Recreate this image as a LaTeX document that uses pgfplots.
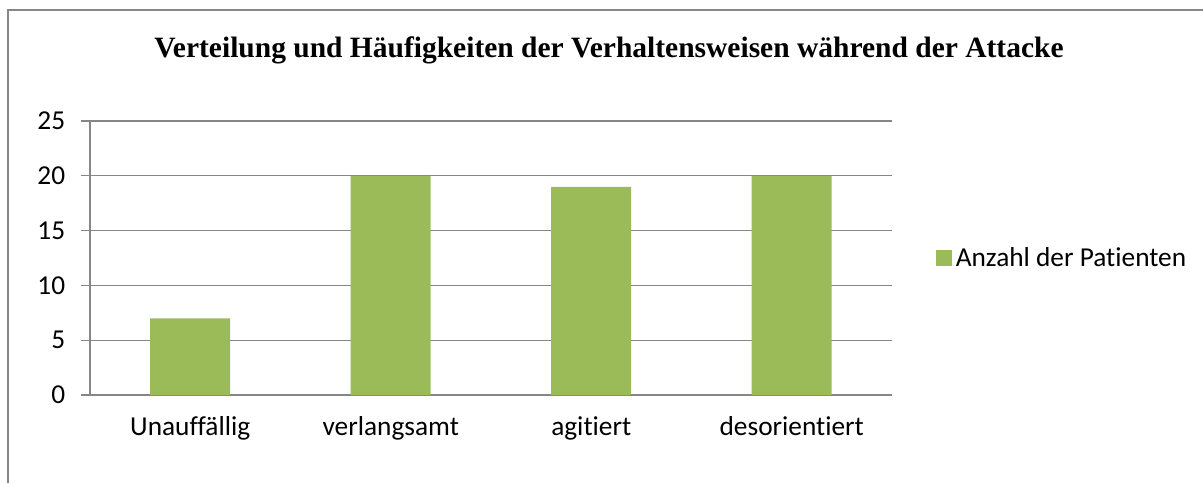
\documentclass[border=0pt]{standalone}
\usepackage{fontspec}
\setmainfont{Carlito}[Ligatures=NoCommon]
\newfontfamily\titlefont{Liberation Serif}
\usepackage{pgfplots}
\pgfplotsset{compat=1.18}
\definecolor{bargreen}{HTML}{9BBB59}
\definecolor{linegray}{HTML}{868686}

\begin{document}
\begin{tikzpicture}[x=0.6pt, y=0.6pt]
  % canvas in reference pixels (y measured from the bottom)
  \useasboundingbox (0,0) rectangle (1203,483);
  \draw[linegray, line width=1.3pt] (8,0) -- (8,473) -- (1210,473);
  \node[font=\titlefont\bfseries\fontsize{17.7}{20}\selectfont, anchor=base]
    at (609,425) {Verteilung und Häufigkeiten der Verhaltensweisen während der Attacke};

  \begin{axis}[
    at={(54pt,52.8pt)}, anchor=south west,
    scale only axis,
    width=481.2pt, height=164.4pt,
    xmin=-0.5, xmax=3.5,
    ymin=0, ymax=25,
    axis x line*=bottom, axis y line*=left,
    axis line style={linegray, line width=0.8pt, -},
    ytick={0,5,...,25},
    ymajorgrids,
    grid style={linegray, line width=0.8pt},
    xtick={0,1,2,3},
    xticklabels={Unauffällig, verlangsamt, agitiert, desorientiert},
    x tick style={draw=none},
    y tick style={linegray, line width=0.8pt},
    extra x ticks={-0.5,0.5,1.5,2.5,3.5},
    extra x tick labels={},
    extra x tick style={grid=none, tick style={linegray, line width=0.8pt}, major tick length=5pt},
    tick align=outside,
    major tick length=5.4pt,
    ticklabel style={font=\fontsize{16.4}{18}\selectfont},
    /pgf/number format/assume math mode=true,
    yticklabel style={xshift=-6pt},
    xticklabel style={yshift=-4pt},
    legend style={at={(1.055,0.5)}, anchor=west, draw=none, fill=none,
      font=\fontsize{16.4}{18}\selectfont, inner sep=0pt},
    legend image code/.code={\fill[bargreen] (0pt,-4.8pt) rectangle (9.6pt,4.8pt);},
  ]
    \addplot[ybar, bar width=48pt, fill=bargreen, draw=none]
      coordinates {(0,7) (1,20) (2,19) (3,20)};
    \addlegendentry{Anzahl der Patienten}
  \end{axis}
\end{tikzpicture}
\end{document}
